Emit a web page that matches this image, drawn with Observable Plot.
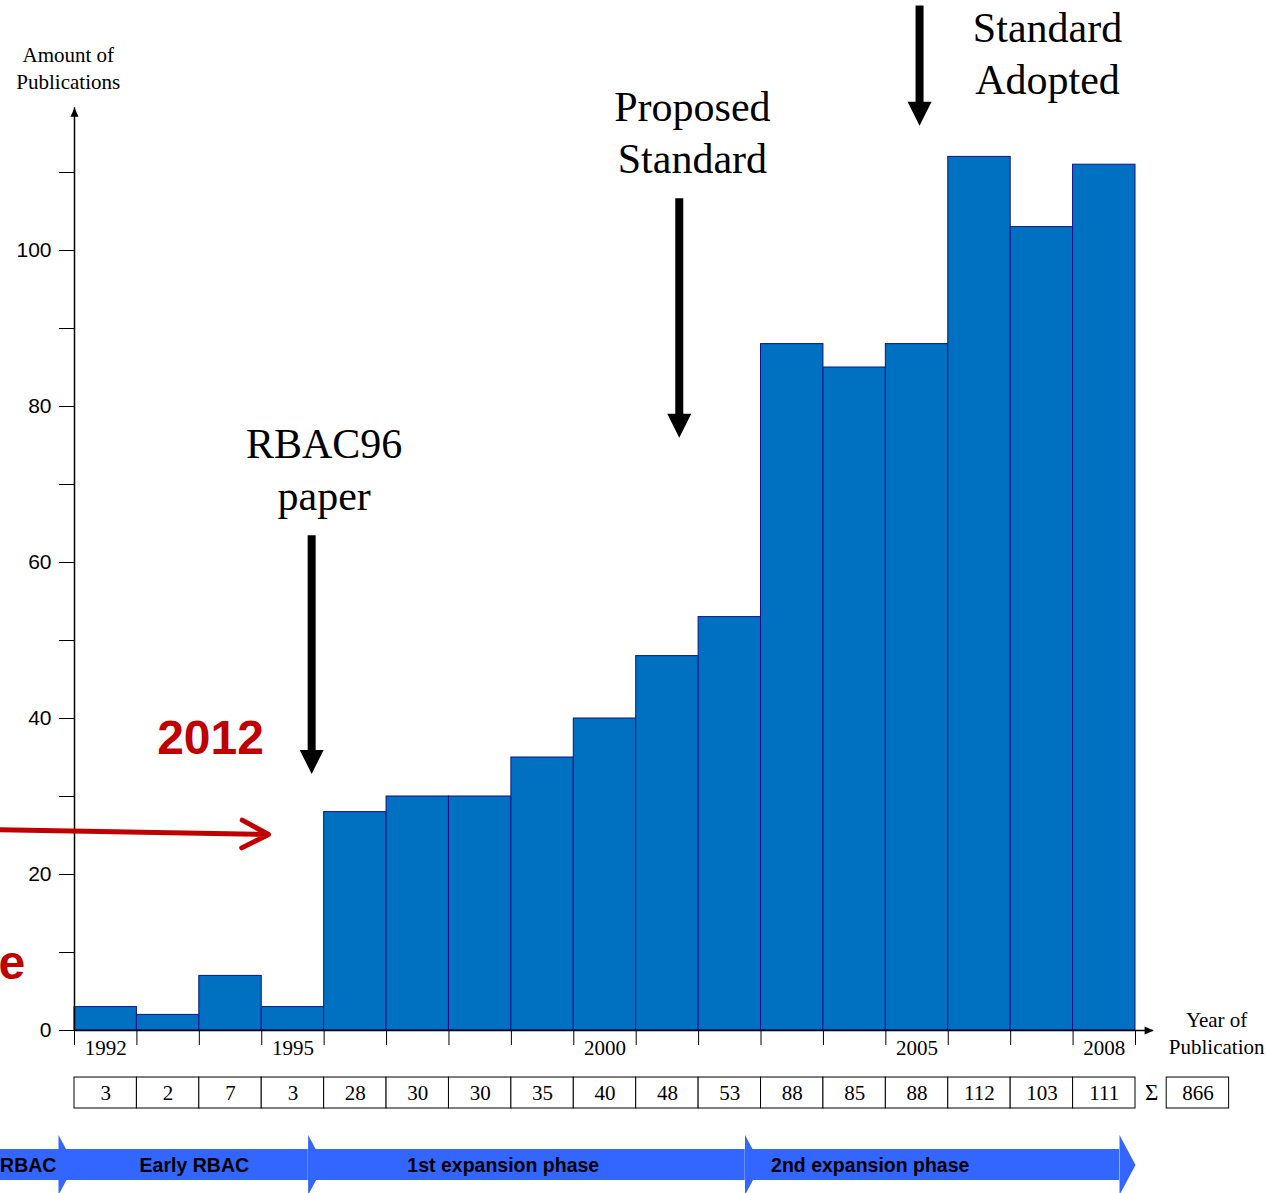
<!DOCTYPE html>
<html>
<head>
<meta charset="utf-8">
<script src="https://cdn.jsdelivr.net/npm/d3@7"></script>
<script src="https://cdn.jsdelivr.net/npm/@observablehq/plot@0.6"></script>
<style>
  html, body { margin: 0; padding: 0; background: #fff; overflow: hidden; }
  #chart svg { display: block; }
</style>
</head>
<body>
<div id="chart"></div>
<script>
// ---- data ----
const years = [1992, 1993, 1994, 1995, 1996, 1997, 1998, 1999, 2000, 2001, 2002, 2003, 2004, 2005, 2006, 2007, 2008];
const counts = [3, 2, 7, 3, 28, 30, 30, 35, 40, 48, 53, 88, 85, 88, 112, 103, 111];
const yearLabels = [1992, 1995, 2000, 2005, 2008];
const yMajorTicks = [0, 20, 40, 60, 80, 100];
const yMinorTicks = [10, 30, 50, 70, 90, 110];

const phaseNames = ["RBAC", "Early RBAC", "1st expansion phase", "2nd expansion phase"];
const phaseStarts = [1989, 1991.5, 1995.5, 2002.5];
const phaseEnds = [1991.5, 1995.5, 2002.5, 2008.5];
const phaseLabelYears = [1991.21, 1993.42, 1998.37, 2004.25];

const annotationTexts = ["RBAC96\npaper", "Proposed\nStandard", "Standard\nAdopted"];
const annotationYears = [1995.5, 2001.4, 2007.09];
const annotationValues = [72.15, 115.35, 125.55];
const eventArrowYears = [1995.3, 2001.19, 2005.04];
const eventArrowFrom = [63.5, 106.7, 131.4];
const eventArrowTo = [32.9, 76.0, 116.0];

// ---- derived tables ----
const bars = years.map((year, i) => ({year, count: counts[i]}));
const total = d3.sum(counts);
const boundaries = [years[0] - 0.5, ...years.map(y => y + 0.5)];
const phases = phaseNames.map((name, i) => ({name, start: phaseStarts[i], end: phaseEnds[i], labelYear: phaseLabelYears[i]}));
const annotations = annotationTexts.map((text, i) => ({text, year: annotationYears[i], value: annotationValues[i]}));
const eventArrows = eventArrowYears.map((year, i) => ({year, from: eventArrowFrom[i], to: eventArrowTo[i]}));

// table band, phase band, axis extents (in data units)
const tableTop = -6.03, tableBottom = -10.0, tableMid = -8.01;
const bandTop = -15.26, bandBottom = -19.23, bandMid = -17.24;
const xAxisEnd = 2008.79, yAxisEnd = 118.3;

// ---- custom symbols ----
const headDown = {draw(c) { c.moveTo(-12, -24); c.lineTo(12, -24); c.lineTo(0, 0); c.closePath(); }};
const headUpSmall = {draw(c) { c.moveTo(-4, 9); c.lineTo(4, 9); c.lineTo(0, 0); c.closePath(); }};
const headRightSmall = {draw(c) { c.moveTo(-9, -4); c.lineTo(-9, 4); c.lineTo(0, 0); c.closePath(); }};
const headPhase = {draw(c) { c.moveTo(-16, -30); c.lineTo(0, 0); c.lineTo(-16, 30); c.closePath(); }};

const serif = "Liberation Serif, Times New Roman, serif";
const sans = "Liberation Sans, Arial, sans-serif";
const phaseBlue = "#3366FF";

const chart = Plot.plot({
  width: 1268,
  height: 1193,
  marginLeft: 74,
  marginRight: 133,
  marginBottom: 163,
  marginTop: 0,
  style: {fontFamily: sans, fontSize: "21px", background: "white", color: "black", overflow: "visible"},
  x: {type: "linear", domain: [1991.5, 2008.5], range: [74, 1135]},
  y: {type: "linear", domain: [0, 100], range: [1030, 250]},
  marks: [
    // bars
    Plot.rectY(bars, {x1: d => d.year - 0.5, x2: d => d.year + 0.5, y: "count", fill: "#0070C0", stroke: "#10108A", strokeWidth: 1}),
    // y axis
    Plot.axisY({ticks: yMajorTicks, tickSize: 15, tickPadding: 8, label: null, fontSize: 21, fontFamily: sans}),
    Plot.axisY({ticks: yMinorTicks, tickSize: 15, tickFormat: () => "", label: null}),
    Plot.ruleX([years[0] - 0.5], {y1: 0, y2: yAxisEnd, stroke: "black", strokeWidth: 1.5}),
    Plot.dot([yAxisEnd], {x: years[0] - 0.5, y: d => d, symbol: headUpSmall, fill: "black", stroke: "none"}),
    // x axis
    Plot.axisX({ticks: boundaries, tickSize: 15, tickFormat: () => "", label: null}),
    Plot.ruleY([0], {x1: years[0] - 0.5, x2: xAxisEnd, stroke: "black", strokeWidth: 1.5}),
    Plot.dot([xAxisEnd], {x: d => d, y: 0, symbol: headRightSmall, fill: "black", stroke: "none"}),
    Plot.text(yearLabels, {x: d => d, frameAnchor: "bottom", dy: 18, text: d => String(d), fontFamily: serif, fontSize: 21, lineAnchor: "middle"}),
    // axis titles
    Plot.text(["Amount of\nPublications"], {x: 1991.4, y: 123.53, text: d => d, fontFamily: serif, fontSize: 21, lineHeight: 1.29, lineAnchor: "middle"}),
    Plot.text(["Year of\nPublication"], {x: 2009.8, y: -0.2, text: d => d, fontFamily: serif, fontSize: 21, lineHeight: 1.29, lineAnchor: "middle"}),
    // value table
    Plot.rect(bars, {x1: d => d.year - 0.5, x2: d => d.year + 0.5, y1: tableTop, y2: tableBottom, fill: "white", stroke: "black", strokeWidth: 1}),
    Plot.text(bars, {x: "year", y: tableMid, text: d => String(d.count), fontFamily: serif, fontSize: 21, lineAnchor: "middle"}),
    Plot.text(["Σ"], {x: 2008.76, y: tableMid, text: d => d, fontFamily: serif, fontSize: 23, lineAnchor: "middle"}),
    Plot.rect([total], {x1: 2009, x2: 2010, y1: tableTop, y2: tableBottom, fill: "white", stroke: "black", strokeWidth: 1}),
    Plot.text([total], {x: 2009.5, y: tableMid, text: d => String(d), fontFamily: serif, fontSize: 21, lineAnchor: "middle"}),
    // phase arrows
    Plot.rect(phases, {x1: "start", x2: "end", y1: bandTop, y2: bandBottom, insetLeft: -16, insetRight: 16, fill: phaseBlue}),
    Plot.dot(phases, {x: "end", y: bandMid, symbol: headPhase, fill: phaseBlue, stroke: "none"}),
    Plot.text(phases.slice(0, 1), {x: "labelYear", y: bandMid, text: "name", textAnchor: "end", fontFamily: sans, fontWeight: "bold", fontSize: 19.5, fill: "black", lineAnchor: "middle", dy: 1}),
    Plot.text(phases.slice(1), {x: "labelYear", y: bandMid, text: "name", textAnchor: "middle", fontFamily: sans, fontWeight: "bold", fontSize: 19.5, fill: "black", lineAnchor: "middle", dy: 1}),
    // event arrows
    Plot.arrow(eventArrows, {x1: "year", x2: "year", y1: "from", y2: "to", stroke: "black", strokeWidth: 8, strokeLinecap: "butt", headLength: 0, insetEnd: 20}),
    Plot.dot(eventArrows, {x: "year", y: "to", symbol: headDown, fill: "black", stroke: "none"}),
    Plot.text(annotations, {x: "year", y: "value", text: "text", fontFamily: serif, fontSize: 42, lineHeight: 1.24, lineAnchor: "middle", fill: "black"}),
    // red overlay
    Plot.text(["2012"], {x: 1993.68, y: 37.4, text: d => d, fontFamily: sans, fontWeight: "bold", fontSize: 48, fill: "#C00000", lineAnchor: "middle"}),
    Plot.text(["e"], {x: 1990.71, y: 8.6, text: d => d, textAnchor: "end", fontFamily: sans, fontWeight: "bold", fontSize: 48, fill: "#C00000", lineAnchor: "middle"}),
    Plot.arrow([{x1: 1990.1, y1: 25.77, x2: 1994.61, y2: 25.13}], {x1: "x1", y1: "y1", x2: "x2", y2: "y2", stroke: "#C00000", strokeWidth: 5, headLength: 9, headAngle: 55})
  ]
});
document.getElementById("chart").append(chart);
</script>
</body>
</html>
